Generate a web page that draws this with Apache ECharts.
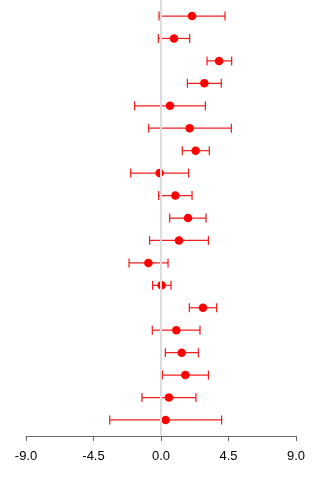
<!DOCTYPE html>
<html>
<head>
<meta charset="utf-8">
<script src="https://cdn.jsdelivr.net/npm/echarts@6/dist/echarts.min.js"></script>
<style>
  html, body { margin: 0; padding: 0; background: #fff; }
  #chart { width: 320px; height: 480px; }
</style>
</head>
<body>
<div id="chart"></div>
<script>
// Estimates with lower / upper interval limits, listed top row first
const estimates = [2.07, 0.87, 3.87, 2.89, 0.60, 1.91, 2.31, -0.09, 0.96, 1.80,
                   1.20, -0.84, 0.04, 2.80, 1.02, 1.38, 1.62, 0.53, 0.31];
const lowerLimits = [-0.13, -0.18, 3.07, 1.76, -1.76, -0.82, 1.42, -2.02, -0.16, 0.58,
                     -0.76, -2.13, -0.56, 1.89, -0.58, 0.29, 0.09, -1.27, -3.42];
const upperLimits = [4.27, 1.91, 4.71, 4.02, 2.96, 4.69, 3.22, 1.84, 2.07, 3.00,
                     3.16, 0.47, 0.67, 3.71, 2.60, 2.49, 3.16, 2.33, 4.04];
const xTicks = [-9, -4.5, 0, 4.5, 9];

const n = estimates.length;
// row position: top row gets the highest y
const rows = estimates.map((_, i) => n - i);

const pointData = estimates.map((v, i) => [v, rows[i]]);
const barData = estimates.map((v, i) => [lowerLimits[i], upperLimits[i], rows[i]]);

const chart = echarts.init(document.getElementById('chart'), null, { renderer: 'canvas' });

chart.setOption({
  animation: false,
  backgroundColor: '#fff',
  grid: { left: 26, right: 24, top: 0, bottom: 44, containLabel: false },
  xAxis: {
    type: 'value',
    min: -9, max: 9, interval: 4.5,
    splitLine: { show: false },
    axisLine: { show: true, onZero: false, lineStyle: { color: '#666', width: 1 } },
    axisTick: { show: true, length: 5, lineStyle: { color: '#666' } },
    axisLabel: {
      color: '#000', fontSize: 13, fontFamily: 'Liberation Sans, Arial, sans-serif',
      margin: 14,
      formatter: v => (xTicks.includes(v) ? v.toFixed(1) : '')
    }
  },
  yAxis: {
    type: 'value',
    min: 0.287, max: 19.713,
    show: false,
    splitLine: { show: false }
  },
  series: [
    {
      // reference line at zero
      type: 'line',
      data: [],
      silent: true,
      markLine: {
        symbol: 'none',
        silent: true,
        label: { show: false },
        lineStyle: { color: '#dddddd', width: 2, type: 'solid' },
        data: [{ xAxis: 0 }]
      },
      z: 1
    },
    {
      type: 'custom',
      z: 2,
      renderItem: function (params, api) {
        const lo = api.coord([api.value(0), api.value(2)]);
        const hi = api.coord([api.value(1), api.value(2)]);
        const stroke = 'rgba(240,20,20,0.95)';
        const w = 1.25;
        const cap = 4.5;
        return {
          type: 'group',
          children: [
            { type: 'line', shape: { x1: lo[0], y1: lo[1], x2: hi[0], y2: hi[1] },
              style: { stroke: stroke, lineWidth: w } },
            { type: 'line', shape: { x1: lo[0], y1: lo[1] - cap, x2: lo[0], y2: lo[1] + cap },
              style: { stroke: stroke, lineWidth: w } },
            { type: 'line', shape: { x1: hi[0], y1: hi[1] - cap, x2: hi[0], y2: hi[1] + cap },
              style: { stroke: stroke, lineWidth: w } }
          ]
        };
      },
      encode: { x: [0, 1], y: 2 },
      data: barData
    },
    {
      type: 'scatter',
      z: 3,
      symbol: 'circle',
      symbolSize: 8.5,
      itemStyle: { color: '#ff0000', opacity: 1 },
      data: pointData
    }
  ]
});
</script>
</body>
</html>
